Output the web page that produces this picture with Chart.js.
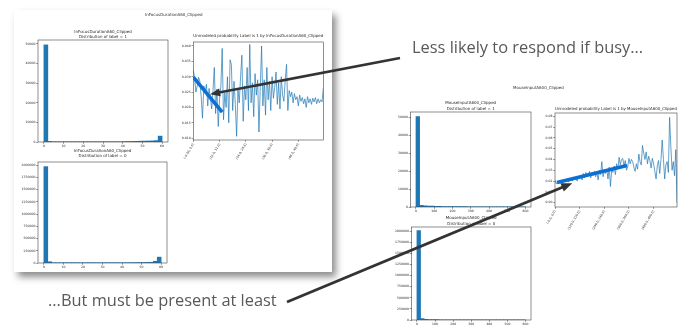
<!DOCTYPE html>
<html>
<head>
<meta charset="utf-8">
<script src="https://cdn.jsdelivr.net/npm/chart.js@4.4.1/dist/chart.umd.min.js"></script>
<style>
  html, body { margin: 0; padding: 0; background: #fff; }
  body { width: 681px; height: 325px; overflow: hidden; position: relative; }
  #stage { position: absolute; left: 0; top: 0; width: 681px; height: 325px; }
  .panel { position: absolute; left: 14px; top: 10px; width: 318px; height: 262px; background: #fff;
           box-shadow: 4px 5px 7px rgba(0,0,0,0.45); }
  canvas.c { position: absolute; filter: blur(0.3px); }
  svg { position: absolute; left: 0; top: 0; }
</style>
</head>
<body>
<div id="stage">
  <div class="panel"></div>
</div>
<svg id="overlay" width="681" height="325" xmlns="http://www.w3.org/2000/svg">
  <text x="145" y="15.5" font-family="DejaVu Sans" font-size="4" fill="#333">InFocusDurationA60_Clipped</text>
  <text x="513" y="88.5" font-family="DejaVu Sans" font-size="4" fill="#333">MouseInputA600_Clipped</text>
  <text x="412" y="53" font-family="Open Sans" font-size="16.4" fill="#595959">Less likely to respond if busy...</text>
  <text x="48" y="306" font-family="Open Sans" font-size="16.4" fill="#595959">...But must be present at least</text>
</svg>
<script>
// ---------- histogram counts (30 equal-width bins) ----------
const focusBinWidth = 2;    // InFocusDurationA60_Clipped spans 0..60
const mouseBinWidth = 20;   // MouseInputA600_Clipped spans 0..600

const focusLabel1Counts = [49500, 300, 150, 100, 80, 60, 50, 40, 40, 40,
                           30, 30, 30, 30, 30, 30, 30, 30, 30, 30,
                           200, 250, 300, 350, 400, 450, 500, 550, 700, 3000];
const focusLabel0Counts = [1970000, 25000, 3000, 2000, 1500, 1200, 1000, 900, 800, 700,
                           600, 600, 500, 500, 500, 500, 500, 500, 500, 500,
                           5000, 6000, 7000, 8000, 9000, 10000, 12000, 15000, 35000, 120000];
const mouseLabel1Counts = [50300, 900, 600, 500, 450, 400, 350, 300, 280, 260,
                           240, 220, 200, 180, 160, 150, 140, 130, 120, 110,
                           100, 90, 80, 70, 60, 50, 40, 30, 20, 10];
const mouseLabel0Counts = [2010000, 30000, 15000, 10000, 8000, 7000, 6000, 5000, 4500, 4000,
                           3500, 3000, 2500, 2200, 2000, 1800, 1600, 1400, 1200, 1000,
                           900, 800, 700, 600, 500, 400, 300, 200, 150, 100];

const focusXTicks = [0, 10, 20, 30, 40, 50, 60];
const mouseXTicks = [0, 100, 200, 300, 400, 500, 600];
const label1YTicks = [0, 10000, 20000, 30000, 40000, 50000];
const label0YTicks = [0, 250000, 500000, 750000, 1000000, 1250000, 1500000, 1750000, 2000000];

// ---------- unmodeled probability of label 1, per bin (100 bins) ----------
const focusProb = [
  0.0322, 0.0295, 0.0250, 0.0270, 0.0298, 0.0285, 0.0235, 0.0165, 0.0270, 0.0250,
  0.0275, 0.0205, 0.0262, 0.0232, 0.0195, 0.0255, 0.0330, 0.0180, 0.0260, 0.0138,
  0.0230, 0.0270, 0.0392, 0.0160, 0.0248, 0.0200, 0.0300, 0.0150, 0.0355, 0.0340,
  0.0190, 0.0285, 0.0210, 0.0106, 0.0260, 0.0215, 0.0300, 0.0370, 0.0155, 0.0270,
  0.0225, 0.0330, 0.0190, 0.0405, 0.0215, 0.0280, 0.0170, 0.0310, 0.0240, 0.0290,
  0.0120, 0.0265, 0.0400, 0.0205, 0.0290, 0.0175, 0.0330, 0.0225, 0.0285, 0.0190,
  0.0300, 0.0230, 0.0265, 0.0315, 0.0210, 0.0280, 0.0195, 0.0300, 0.0240, 0.0220,
  0.0290, 0.0340, 0.0190, 0.0255, 0.0235, 0.0250, 0.0215, 0.0245, 0.0225, 0.0235,
  0.0205, 0.0240, 0.0220, 0.0232, 0.0212, 0.0228, 0.0200, 0.0235, 0.0215, 0.0228,
  0.0210, 0.0230, 0.0218, 0.0232, 0.0212, 0.0228, 0.0215, 0.0225, 0.0218, 0.0262
];
const mouseProb = [
  0.021, 0.0175, 0.019, 0.018, 0.020, 0.0195, 0.021, 0.019, 0.0205, 0.020,
  0.022, 0.019, 0.021, 0.0215, 0.020, 0.023, 0.021, 0.0225, 0.020, 0.024,
  0.022, 0.025, 0.021, 0.027, 0.023, 0.028, 0.024, 0.026, 0.029, 0.023,
  0.027, 0.025, 0.029, 0.024, 0.028, 0.021, 0.030, 0.026, 0.038, 0.024,
  0.030, 0.027, 0.031, 0.022, 0.033, 0.015, 0.030, 0.028, 0.034, 0.026,
  0.036, 0.031, 0.042, 0.035, 0.040, 0.041, 0.034, 0.039, 0.030, 0.033,
  0.041, 0.036, 0.040, 0.038, 0.033, 0.029, 0.036, 0.031, 0.045, 0.038,
  0.035, 0.053, 0.046, 0.040, 0.047, 0.036, 0.043, 0.039, 0.032, 0.041,
  0.036, 0.029, 0.022, 0.034, 0.039, 0.027, 0.040, 0.058, 0.040, 0.022,
  0.035, 0.038, 0.028, 0.079, 0.052, 0.030, 0.038, 0.025, 0.049, 0.000
];

const probTickIndex = [0, 20, 40, 60, 80];
const focusProbTickLabels = ['(-0.06, 0.6]', '(12.0, 12.6]', '(24.0, 24.6]', '(36.0, 36.6]', '(48.0, 48.6]'];
const mouseProbTickLabels = ['(-0.6, 6.0]', '(120.0, 126.0]', '(240.0, 246.0]', '(360.0, 366.0]', '(480.0, 486.0]'];
const focusProbYTicks = [0.010, 0.015, 0.020, 0.025, 0.030, 0.035, 0.040];
const mouseProbYTicks = [0.00, 0.01, 0.02, 0.03, 0.04, 0.05, 0.06, 0.07, 0.08];

// hand-drawn trend strokes, as [bin index, probability]
const focusTrend = [[0, 0.0299], [22, 0.0185]];
const mouseTrend = [[1.6, 0.0187], [58.4, 0.0344]];

// where the callout arrows point, as [bin index, probability]
const focusArrowTarget = [12.8, 0.0243];
const mouseArrowTarget = [14.0, 0.0180];

// ---------- drawing ----------
const TICK_FONT = { family: 'DejaVu Sans', size: 3.1 };
const TITLE_FONT = { family: 'DejaVu Sans', size: 4, lineHeight: 1.35, weight: 'normal' };
const INK = '#2b2b2b';
const BAR_BLUE = '#1f77b4';
const TREND_BLUE = '#0b6fd4';

const framePlugin = {
  id: 'frame',
  afterDraw(chart) {
    const a = chart.chartArea, ctx = chart.ctx;
    ctx.save();
    ctx.strokeStyle = '#444';
    ctx.lineWidth = 0.6;
    ctx.strokeRect(a.left, a.top, a.right - a.left, a.bottom - a.top);
    ctx.restore();
  }
};

function histData(counts, binWidth) {
  return counts.map((c, i) => ({ x: binWidth * (i + 0.5), y: c }));
}

function makeChart(spec) {
  const a = spec.area;
  const th = spec.title.length * TITLE_FONT.size * TITLE_FONT.lineHeight + spec.titlePad;
  const left = Math.floor(a.L - spec.yw);
  const top = Math.floor(a.T - th);
  const width = Math.ceil(a.R + spec.padR - left);
  const height = Math.ceil(a.B + spec.xh - top);
  const cv = document.createElement('canvas');
  cv.className = 'c';
  cv.width = width; cv.height = height;
  cv.style.left = left + 'px'; cv.style.top = top + 'px';
  cv.style.width = width + 'px'; cv.style.height = height + 'px';
  document.getElementById('stage').appendChild(cv);

  const yw = a.L - left;
  const padTop = (a.T - th) - top;
  const padRight = width - (a.R - left);
  const padBottom = height - spec.xh - (a.B - top);
  const rot = spec.rotate || 0;

  const chart = new Chart(cv, {
    type: spec.type,
    data: { datasets: spec.datasets },
    options: {
      responsive: false,
      animation: false,
      devicePixelRatio: 1,
      layout: { padding: { left: 0, top: padTop, right: padRight, bottom: padBottom } },
      plugins: {
        legend: { display: false },
        tooltip: { enabled: false },
        title: {
          display: true, text: spec.title, fullSize: false,
          font: TITLE_FONT, color: INK,
          padding: { top: 0, bottom: spec.titlePad }
        }
      },
      scales: {
        x: {
          type: 'linear', min: spec.x.min, max: spec.x.max, offset: false,
          grid: { display: true, drawOnChartArea: false, drawTicks: true, tickLength: 1.8, color: '#333', lineWidth: 0.5, offset: false },
          border: { display: false },
          ticks: {
            font: TICK_FONT, color: INK, padding: 0.8, autoSkip: false,
            minRotation: rot, maxRotation: rot,
            callback: spec.x.label
          },
          afterBuildTicks: s => { s.ticks = spec.x.ticks.map(v => ({ value: v })); },
          afterFit: s => { s.height = spec.xh; s.paddingLeft = 0; s.paddingRight = 0; }
        },
        y: {
          type: 'linear', min: spec.y.min, max: spec.y.max,
          grid: { display: true, drawOnChartArea: false, drawTicks: true, tickLength: 1.8, color: '#333', lineWidth: 0.5 },
          border: { display: false },
          ticks: { font: TICK_FONT, color: INK, padding: 0.8, callback: spec.y.label },
          afterBuildTicks: s => { s.ticks = spec.y.ticks.map(v => ({ value: v })); },
          afterFit: s => { s.width = yw; s.paddingTop = 0; s.paddingBottom = 0; }
        }
      }
    },
    plugins: [framePlugin]
  });
  chart.$left = left;
  chart.$top = top;
  return chart;
}

const barStyle = { backgroundColor: BAR_BLUE, borderWidth: 0, barPercentage: 1, categoryPercentage: 1 };
const intLabel = v => String(v);

// InFocusDurationA60_Clipped, label = 1
makeChart({
  type: 'bar', area: { L: 38, T: 40, R: 168, B: 142 }, yw: 15, xh: 8, padR: 6, titlePad: 0.3,
  title: ['InFocusDurationA60_Clipped', 'Distribution of label = 1'],
  datasets: [Object.assign({ data: histData(focusLabel1Counts, focusBinWidth) }, barStyle)],
  x: { min: -3, max: 63, ticks: focusXTicks, label: intLabel },
  y: { min: 0, max: 52000, ticks: label1YTicks, label: intLabel }
});

// InFocusDurationA60_Clipped, label = 0
makeChart({
  type: 'bar', area: { L: 38, T: 162, R: 167, B: 263 }, yw: 20, xh: 8, padR: 6, titlePad: 3,
  title: ['InFocusDurationA60_Clipped', 'Distribution of label = 0'],
  datasets: [Object.assign({ data: histData(focusLabel0Counts, focusBinWidth) }, barStyle)],
  x: { min: -3, max: 63, ticks: focusXTicks, label: intLabel },
  y: { min: 0, max: 2065000, ticks: label0YTicks, label: intLabel }
});

// MouseInputA600_Clipped, label = 1
makeChart({
  type: 'bar', area: { L: 410.5, T: 112, R: 531, B: 207 }, yw: 15, xh: 8, padR: 6, titlePad: 0.5,
  title: ['MouseInputA600_Clipped', 'Distribution of label = 1'],
  datasets: [Object.assign({ data: histData(mouseLabel1Counts, mouseBinWidth) }, barStyle)],
  x: { min: -30, max: 630, ticks: mouseXTicks, label: intLabel },
  y: { min: 0, max: 52800, ticks: label1YTicks, label: intLabel }
});

// MouseInputA600_Clipped, label = 0
makeChart({
  type: 'bar', area: { L: 411.5, T: 227, R: 531, B: 320 }, yw: 20, xh: 6, padR: 6, titlePad: 0.5,
  title: ['MouseInputA600_Clipped', 'Distribution of label = 0'],
  datasets: [Object.assign({ data: histData(mouseLabel0Counts, mouseBinWidth) }, barStyle)],
  x: { min: -30, max: 630, ticks: mouseXTicks, label: intLabel },
  y: { min: 0, max: 2090000, ticks: label0YTicks, label: intLabel }
});

function probDatasets(values, trend) {
  return [
    { data: values.map((v, i) => ({ x: i, y: v })), borderColor: BAR_BLUE, borderWidth: 0.7,
      pointRadius: 0, tension: 0, fill: false, order: 2 },
    { data: trend.map(p => ({ x: p[0], y: p[1] })), borderColor: TREND_BLUE, borderWidth: 3.6,
      borderCapStyle: 'butt', pointRadius: 0, tension: 0, fill: false, order: 1 }
  ];
}

const focusProbChart = makeChart({
  type: 'line', area: { L: 193.3, T: 42, R: 323.3, B: 140 }, yw: 17, xh: 24, padR: 10, titlePad: 3,
  title: ['Unmodeled probability Label is 1 by InFocusDurationA60_Clipped'],
  rotate: 60,
  datasets: probDatasets(focusProb, focusTrend),
  x: { min: 0, max: focusProb.length - 1, ticks: probTickIndex,
       label: v => focusProbTickLabels[probTickIndex.indexOf(v)] },
  y: { min: 0.0094, max: 0.0413, ticks: focusProbYTicks, label: v => v.toFixed(3) }
});

const mouseProbChart = makeChart({
  type: 'line', area: { L: 555, T: 113, R: 677, B: 207 }, yw: 16, xh: 26, padR: 12, titlePad: 1,
  title: ['Unmodeled probability Label is 1 by MouseInputA600_Clipped'],
  rotate: 60,
  datasets: probDatasets(mouseProb, mouseTrend),
  x: { min: 0, max: mouseProb.length - 1, ticks: probTickIndex,
       label: v => mouseProbTickLabels[probTickIndex.indexOf(v)] },
  y: { min: -0.004, max: 0.083, ticks: mouseProbYTicks, label: v => v.toFixed(2) }
});

// ---------- callout arrows ----------
function pagePoint(chart, p) {
  return [chart.$left + chart.scales.x.getPixelForValue(p[0]),
          chart.$top + chart.scales.y.getPixelForValue(p[1])];
}

function drawArrow(svg, tail, tip, width, headLen, headW) {
  const NS = 'http://www.w3.org/2000/svg';
  const dx = tip[0] - tail[0], dy = tip[1] - tail[1];
  const len = Math.hypot(dx, dy), ux = dx / len, uy = dy / len;
  const bx = tip[0] - ux * headLen, by = tip[1] - uy * headLen;
  const line = document.createElementNS(NS, 'line');
  line.setAttribute('x1', tail[0]); line.setAttribute('y1', tail[1]);
  line.setAttribute('x2', bx + ux); line.setAttribute('y2', by + uy);
  line.setAttribute('stroke', '#333'); line.setAttribute('stroke-width', width);
  svg.appendChild(line);
  const head = document.createElementNS(NS, 'polygon');
  const px = -uy * headW / 2, py = ux * headW / 2;
  head.setAttribute('points', `${tip[0]},${tip[1]} ${bx + px},${by + py} ${bx - px},${by - py}`);
  head.setAttribute('fill', '#333');
  svg.appendChild(head);
}

const overlay = document.getElementById('overlay');
drawArrow(overlay, [400, 58], pagePoint(focusProbChart, focusArrowTarget), 2.6, 10, 8);
drawArrow(overlay, [287, 302], pagePoint(mouseProbChart, mouseArrowTarget), 2.8, 11, 9);
</script>
</body>
</html>
